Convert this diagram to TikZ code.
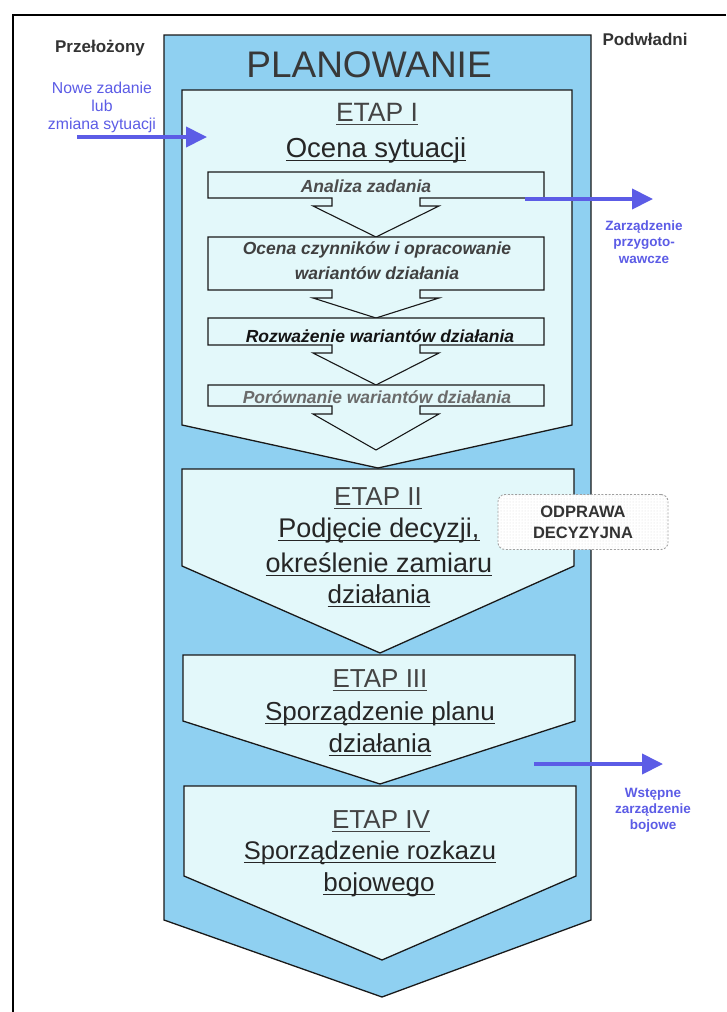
\documentclass[tikz,border=0pt]{standalone}
\usepackage{fontspec}
\setmainfont{Liberation Sans}
\usetikzlibrary{arrows.meta,patterns}

\definecolor{stripblue}{HTML}{8FD0F1}
\definecolor{stagefill}{HTML}{E3F8FA}
\definecolor{notecolor}{HTML}{5C5CE6}
\definecolor{inkgray}{HTML}{262626}
\definecolor{headgray}{HTML}{444444}

% underlined line of stage text
\newcommand\ulined[1]{\setbox0\hbox{#1}\rlap{\copy0}\rule[-4.2pt]{\wd0}{1.5pt}}

% a step box with a down-pointing arrow below it: top, bottom, tip y
\newcommand\stepshape[3]{%
  \draw[steppen] (208,#1) -- (544,#1) -- (544,#2) -- (420,#2) -- (420,#2+8)
    -- (439,#2+8) -- (376,#3) -- (313,#2+8) -- (332,#2+8) -- (332,#2)
    -- (208,#2) -- cycle;}

\tikzset{
  framepen/.style={draw=black, line width=1.2pt},
  stagepen/.style={draw=black!90, line width=1.3pt, fill=stagefill, line join=miter},
  steppen/.style={draw=black!90, line width=1.1pt, fill=stagefill, line join=miter},
  stagetext/.style={inner sep=0pt, anchor=base, text=inkgray,
    font=\fontsize{26}{30}\selectfont},
  stagehead/.style={stagetext, text=headgray},
  steptext/.style={inner sep=0pt, anchor=base,
    font=\fontsize{17.5}{21}\selectfont\bfseries\itshape},
  sidehead/.style={inner sep=0pt, anchor=base, text=black!80,
    font=\fontsize{17}{20}\selectfont\bfseries},
  notetext/.style={inner sep=0pt, anchor=base, text=notecolor,
    font=\fontsize{15.8}{18}\selectfont},
  notebold/.style={inner sep=0pt, anchor=base, text=notecolor,
    font=\fontsize{13.5}{16}\selectfont\bfseries},
  notearrow/.style={draw=notecolor, line width=4pt,
    -{Triangle[length=21pt,width=20pt]}},
}

\begin{document}
\begin{tikzpicture}[x=1pt,y=-1pt]
\useasboundingbox (0,0) rectangle (726,1012);
\fill[white] (0,0) rectangle (726,1012);

% page frame
\draw[framepen] (726,15) -- (13,15) -- (13,1012);

% planning strip
\draw[line width=1.3pt, draw=black!90, fill=stripblue]
  (164,35) -- (591,35) -- (591,920) -- (382,997) -- (164,920) -- cycle;

% stages
\draw[stagepen] (182,90) -- (572,90) -- (572,425) -- (378,468) -- (182,425) -- cycle;
\draw[stagepen] (182,469) -- (574,469) -- (574,566) -- (380,653) -- (182,566) -- cycle;
\draw[stagepen] (183,655) -- (575,655) -- (575,721) -- (380,784) -- (183,721) -- cycle;
\draw[stagepen] (184,786) -- (576,786) -- (576,876) -- (382,960) -- (184,876) -- cycle;

% steps of stage I
\stepshape{172}{198}{237}
\stepshape{237}{290}{318}
\stepshape{318}{345}{385}
\stepshape{385}{406}{450}

% headings
\node[sidehead] (boss) at (100,52) {Przełożony};
\node[sidehead] (subs) at (645,45) {Podwładni};
\node[inner sep=0pt, anchor=base, text=black!78, font=\fontsize{37}{40}\selectfont]
  (plan) at (369,77) {PLANOWANIE};

% stage I
\node[stagehead, font=\fontsize{26.5}{30}\selectfont] (e1a) at (377,121) {\ulined{ETAP I}};
\node[stagetext, font=\fontsize{27.5}{30}\selectfont] (e1b) at (376,157) {\ulined{Ocena sytuacji}};
\node[steptext, text=black!70] (s1) at (366,192) {Analiza zadania};
\node[steptext, text=black!75] (s2a) at (377,254) {Ocena czynników i opracowanie};
\node[steptext, text=black!75] (s2b) at (377,279) {wariantów działania};
\node[steptext, text=black!92] (s3) at (380,342) {Rozważenie wariantów działania};
\node[steptext, text=black!58] (s4) at (377,403) {Porównanie wariantów działania};

% stage II
\node[stagehead] (e2a) at (378,505) {\ulined{ETAP II}};
\node[stagetext, font=\fontsize{27}{30}\selectfont] (e2b) at (379,537) {\ulined{Podjęcie decyzji,}};
\node[stagetext, font=\fontsize{27}{30}\selectfont] (e2c) at (379,572) {\ulined{określenie zamiaru}};
\node[stagetext] (e2d) at (379,603) {\ulined{działania}};

% stage III
\node[stagehead] (e3a) at (380,687) {\ulined{ETAP III}};
\node[stagetext] (e3b) at (380,720) {\ulined{Sporządzenie planu}};
\node[stagetext] (e3c) at (380,752) {\ulined{działania}};

% stage IV
\node[stagehead] (e4a) at (381,828) {\ulined{ETAP IV}};
\node[stagetext, font=\fontsize{25.5}{30}\selectfont] (e4b) at (370,859) {\ulined{Sporządzenie rozkazu}};
\node[stagetext] (e4c) at (379,891) {\ulined{bojowego}};

% briefing box
\node[draw=gray!75, dash pattern=on 2pt off 1.6pt, line width=0.9pt,
  rounded corners=7pt, fill=white, minimum width=170pt, minimum height=55pt,
  postaction={pattern=dots, pattern color=gray!30},
  align=center, text=black!80, font=\fontsize{16.5}{21}\selectfont\bfseries]
  (brief) at (583,522) {ODPRAWA\\DECYZYJNA};

% incoming task
\node[notetext] (in1) at (102,93) {Nowe zadanie};
\node[notetext] (in2) at (102,111) {lub};
\node[notetext] (in3) at (102,129) {zmiana sytuacji};
\coordinate (inS) at (77,137);
\coordinate (inE) at (207,137);
\draw[notearrow] (inS) -- (inE);

% preparatory order
\coordinate (prepS) at (525,199);
\coordinate (prepE) at (653,199);
\draw[notearrow] (prepS) -- (prepE);
\node[notebold] (p1) at (644,230) {Zarządzenie};
\node[notebold] (p2) at (644,246) {przygoto-};
\node[notebold] (p3) at (644,263) {wawcze};

% warning order
\coordinate (warnS) at (534,764);
\coordinate (warnE) at (663,764);
\draw[notearrow] (warnS) -- (warnE);
\node[notebold] (w1) at (653,797) {Wstępne};
\node[notebold] (w2) at (653,813) {zarządzenie};
\node[notebold] (w3) at (653,829) {bojowe};
\end{tikzpicture}
\end{document}
